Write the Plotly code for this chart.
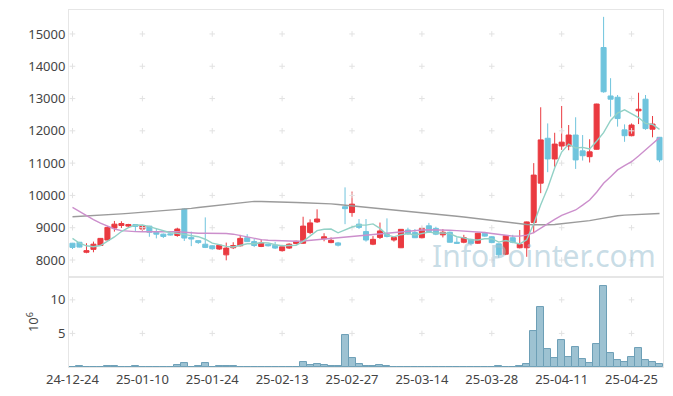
import plotly.graph_objects as go
from plotly.subplots import make_subplots

dates = ["24-12-24", "24-12-26", "24-12-27", "24-12-30", "25-01-02", "25-01-03", "25-01-06", "25-01-07",
         "25-01-08", "25-01-09", "25-01-10", "25-01-13", "25-01-14", "25-01-15", "25-01-16", "25-01-17",
         "25-01-20", "25-01-21", "25-01-22", "25-01-23", "25-01-24", "25-01-31", "25-02-03", "25-02-04",
         "25-02-05", "25-02-06", "25-02-07", "25-02-10", "25-02-11", "25-02-12", "25-02-13", "25-02-14",
         "25-02-17", "25-02-18", "25-02-19", "25-02-20", "25-02-21", "25-02-24", "25-02-25", "25-02-26",
         "25-02-27", "25-02-28", "25-03-04", "25-03-05", "25-03-06", "25-03-07", "25-03-10", "25-03-11",
         "25-03-12", "25-03-13", "25-03-14", "25-03-17", "25-03-18", "25-03-19", "25-03-20", "25-03-21",
         "25-03-24", "25-03-25", "25-03-26", "25-03-27", "25-03-28", "25-03-31", "25-04-01", "25-04-02",
         "25-04-03", "25-04-04", "25-04-07", "25-04-08", "25-04-09", "25-04-10", "25-04-11", "25-04-14",
         "25-04-15", "25-04-16", "25-04-17", "25-04-18", "25-04-21", "25-04-22", "25-04-23", "25-04-24",
         "25-04-25", "25-04-28", "25-04-29", "25-04-30", "25-05-02"]

open_ = [8520, 8550, 8240, 8330, 8450, 8620, 8990, 9070, 9050, 9100, 8960, 9050, 8860, 8800, 8810, 8760,
         9580, 8700, 8600, 8490, 8440, 8340, 8160, 8380, 8440, 8690, 8570, 8420, 8490, 8460, 8290, 8370,
         8510, 8520, 8850, 9180, 8660, 8540, 8530, 9650, 9470, 9110, 8880, 8490, 8700, 8790, 8620, 8380,
         8930, 8850, 8690, 9060, 8980, 8780, 8860, 8550, 8550, 8640, 8520, 8830, 8720, 8500, 8180, 8690,
         8380, 8380, 9160, 10380, 11770, 11130, 11530, 11530, 11870, 11380, 11200, 11430, 14580, 13080,
         13040, 12030, 11850, 12620, 12980, 12050, 11800]
high = [8530, 8560, 8520, 8570, 8680, 9050, 9210, 9200, 9120, 9110, 9090, 9060, 8980, 8820, 8830, 9000,
        9600, 8880, 8620, 9320, 8460, 8470, 8540, 8550, 8780, 8800, 8650, 8640, 8510, 8560, 8470, 8520,
        8600, 9340, 9260, 9570, 8830, 8700, 8560, 10250, 10120, 9270, 9270, 8740, 9160, 9290, 8740, 8960,
        9000, 8960, 9030, 9150, 9030, 8960, 8880, 8700, 8780, 8660, 8840, 8870, 8740, 8510, 8770, 8780,
        8930, 9190, 11000, 12730, 12230, 11940, 12770, 12180, 12420, 11870, 11740, 12840, 15530, 13630,
        13110, 12200, 12230, 13180, 13110, 12460, 11810]
low = [8340, 8390, 8210, 8240, 8440, 8610, 8880, 8990, 9000, 8900, 8900, 8720, 8670, 8680, 8760, 8720,
       8590, 8430, 8500, 8370, 8320, 8310, 7990, 8340, 8420, 8560, 8400, 8400, 8420, 8340, 8260, 8340,
       8490, 8500, 8800, 9150, 8580, 8520, 8420, 9110, 9340, 8960, 8570, 8460, 8650, 8700, 8570, 8370,
       8780, 8680, 8670, 8860, 8770, 8700, 8540, 8500, 8520, 8470, 8500, 8720, 8520, 8070, 8150, 8520,
       8360, 8100, 8830, 10070, 10720, 10890, 11410, 11400, 10820, 11080, 11020, 11420, 13180, 12440,
       12130, 11660, 11830, 12210, 12030, 11800, 11030]
close = [8390, 8400, 8290, 8490, 8670, 9010, 9110, 9130, 9100, 9040, 9050, 8860, 8800, 8730, 8780, 8960,
         8680, 8650, 8540, 8390, 8350, 8460, 8370, 8450, 8670, 8570, 8450, 8530, 8440, 8370, 8410, 8490,
         8580, 9050, 9150, 9270, 8720, 8610, 8460, 9590, 9730, 9010, 8620, 8640, 8900, 8730, 8700, 8950,
         8810, 8690, 8980, 8880, 8800, 8860, 8550, 8520, 8690, 8510, 8830, 8740, 8540, 8160, 8750, 8550,
         8490, 9180, 10630, 11720, 11130, 11590, 11650, 11870, 11100, 11230, 11350, 12830, 13210, 12980,
         12380, 11850, 12180, 12670, 12070, 12210, 11100]

# volume in millions of shares
volume_m = [0.02, 0.12, 0.02, 0.02, 0.02, 0.12, 0.12, 0.02, 0.02, 0.12, 0.02, 0.02, 0.02, 0.02, 0.02, 0.25,
            0.65, 0.02, 0.15, 0.6, 0.02, 0.12, 0.12, 0.12, 0.02, 0.02, 0.02, 0.02, 0.02, 0.02, 0.02, 0.02,
            0.02, 0.75, 0.35, 0.45, 0.3, 0.1, 0.12, 4.75, 1.3, 0.4, 0.12, 0.12, 0.25, 0.12, 0.02, 0.02,
            0.02, 0.02, 0.02, 0.02, 0.02, 0.02, 0.02, 0.02, 0.02, 0.02, 0.02, 0.02, 0.02, 0.12, 0.02, 0.02,
            0.12, 0.4, 5.3, 8.86, 2.62, 1.29, 3.96, 1.44, 2.92, 1.14, 0.54, 3.37, 12.03, 2.03, 1.0, 0.69,
            1.44, 2.77, 1.0, 0.69, 0.4]

ma5 = [8670, 8520, 8440, 8410, 8448, 8572, 8714, 8882, 9004, 9078, 9086, 9036, 8970, 8896, 8844, 8826,
       8790, 8760, 8722, 8644, 8522, 8478, 8422, 8404, 8460, 8504, 8502, 8534, 8532, 8472, 8440, 8448,
       8458, 8580, 8736, 8908, 8954, 8960, 8842, 8930, 9022, 9080, 9082, 9118, 8980, 8780, 8718, 8784,
       8818, 8776, 8826, 8862, 8832, 8842, 8814, 8722, 8684, 8626, 8620, 8658, 8662, 8556, 8604, 8548,
       8498, 8626, 9120, 9714, 10230, 10850, 11344, 11592, 11468, 11488, 11440, 11676, 11944, 12320,
       12550, 12650, 12520, 12412, 12230, 12196, 12046]
ma20 = [9630, 9500, 9370, 9250, 9140, 9040, 8960, 8910, 8890, 8880, 8875, 8880, 8885, 8890, 8890, 8880,
        8860, 8840, 8830, 8830, 8830, 8830, 8820, 8800, 8760, 8700, 8660, 8630, 8610, 8600, 8590, 8585,
        8580, 8590, 8610, 8640, 8660, 8680, 8700, 8730, 8750, 8770, 8790, 8810, 8830, 8850, 8870, 8890,
        8910, 8920, 8930, 8935, 8935, 8930, 8920, 8910, 8900, 8890, 8870, 8850, 8820, 8790, 8770, 8740,
        8740, 8770, 8850, 8990, 9130, 9260, 9380, 9460, 9550, 9700, 9860, 10100, 10375, 10580, 10790,
        10920, 11045, 11220, 11400, 11600, 11790]
ma60 = [9340, 9350, 9360, 9370, 9385, 9400, 9415, 9430, 9445, 9460, 9475, 9490, 9505, 9520, 9535, 9555,
        9575, 9600, 9625, 9650, 9675, 9700, 9725, 9750, 9780, 9810, 9815, 9810, 9800, 9795, 9790, 9785,
        9780, 9775, 9770, 9765, 9755, 9740, 9720, 9700, 9680, 9660, 9630, 9600, 9580, 9560, 9540, 9520,
        9500, 9480, 9460, 9440, 9420, 9400, 9380, 9355, 9330, 9305, 9280, 9250, 9220, 9190, 9160, 9140,
        9120, 9100, 9090, 9085, 9090, 9100, 9120, 9140, 9160, 9190, 9220, 9260, 9300, 9340, 9370, 9390,
        9400, 9410, 9420, 9430, 9440]

tick_dates = dates[::10]
price_ticks = [8000, 9000, 10000, 11000, 12000, 13000, 14000, 15000]
vol_ticks = [5, 10]

RED = "#ea3a40"
BLUE = "#6fc4dd"
GRID = "#e6e6e6"
FONT = "Noto Sans"

fig = make_subplots(rows=2, cols=1, shared_xaxes=True, vertical_spacing=0,
                    row_heights=[0.748, 0.252])

# grid "+" marks
gx = [d for d in tick_dates for _ in price_ticks]
gy = [p for _ in tick_dates for p in price_ticks]
fig.add_trace(go.Scatter(x=gx, y=gy, mode="markers", hoverinfo="skip", showlegend=False,
                         marker=dict(symbol="cross-thin", size=4, line=dict(color="#e2e2e2", width=1))),
              row=1, col=1)
vx = [d for d in tick_dates for _ in vol_ticks]
vy = [v for _ in tick_dates for v in vol_ticks]
fig.add_trace(go.Scatter(x=vx, y=vy, mode="markers", hoverinfo="skip", showlegend=False,
                         marker=dict(symbol="cross-thin", size=4, line=dict(color="#e2e2e2", width=1))),
              row=2, col=1)

fig.add_trace(go.Scatter(x=dates, y=ma60, mode="lines", line=dict(color="#9b9b9b", width=1.4),
                         showlegend=False, hoverinfo="skip"), row=1, col=1)
fig.add_trace(go.Scatter(x=dates, y=ma20, mode="lines", line=dict(color="#cc8fcc", width=1.4),
                         showlegend=False, hoverinfo="skip"), row=1, col=1)
fig.add_trace(go.Scatter(x=dates, y=ma5, mode="lines", line=dict(color="#92d1c6", width=1.4),
                         showlegend=False, hoverinfo="skip"), row=1, col=1)

fig.add_trace(go.Candlestick(x=dates, open=open_, high=high, low=low, close=close,
                             increasing=dict(line=dict(color=RED, width=1), fillcolor=RED),
                             decreasing=dict(line=dict(color=BLUE, width=1), fillcolor=BLUE),
                             whiskerwidth=0, showlegend=False), row=1, col=1)

fig.add_trace(go.Bar(x=dates, y=volume_m, marker=dict(color="#9dc2d2", line=dict(color="#6d9fb6", width=1)),
                     showlegend=False), row=2, col=1)

fig.add_annotation(text="InfoPointer.com", xref="paper", yref="paper", x=0.992, y=0.312,
                   xanchor="right", yanchor="middle",
                   showarrow=False, font=dict(family=FONT, size=30, color="rgba(160,195,212,0.58)"))

fig.update_layout(
    width=665, height=388,
    margin=dict(l=61, r=10, t=2, b=29),
    paper_bgcolor="white", plot_bgcolor="white",
    font=dict(family=FONT, size=13, color="#444"),
    bargap=0, boxgap=0.2, boxgroupgap=0.1,
    showlegend=False,
)
axis_common = dict(showgrid=False, zeroline=False, showline=True, mirror=True, linecolor=GRID, linewidth=1,
                   automargin=False)
fig.update_xaxes(type="category", categoryorder="array", categoryarray=dates, range=[-0.5, len(dates) - 0.5],
                 tickvals=tick_dates, ticktext=tick_dates, ticks="", rangeslider=dict(visible=False),
                 **axis_common)
fig.update_xaxes(showticklabels=False, row=1, col=1)
fig.update_xaxes(showticklabels=True, tickfont=dict(size=13, color="#444"), row=2, col=1)
fig.update_yaxes(range=[7473, 15742], tickvals=price_ticks, tickformat="d", ticks="",
                 tickfont=dict(size=13, color="#444"), **axis_common, row=1, col=1)
fig.update_yaxes(range=[0, 13.4], tickvals=vol_ticks, ticks="", tickfont=dict(size=13, color="#444"),
                 title=dict(text="10<sup>6</sup>", font=dict(size=13, color="#444"), standoff=8),
                 **axis_common, row=2, col=1)

fig.write_html("out.html")
